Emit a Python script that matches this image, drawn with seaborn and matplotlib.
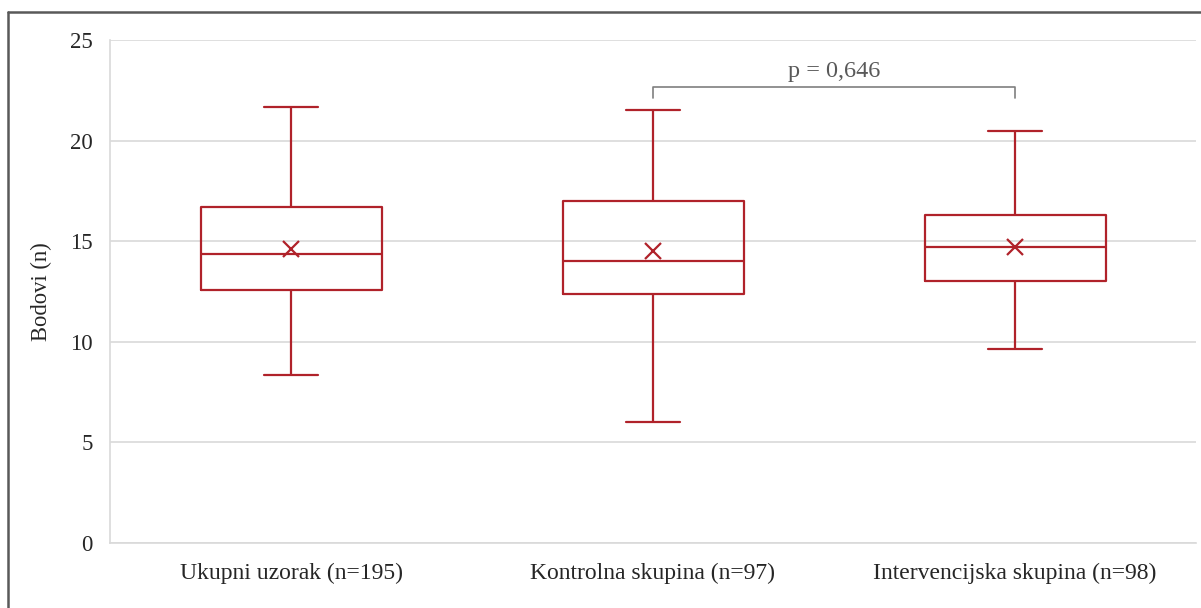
import matplotlib
matplotlib.use('Agg')
import matplotlib.pyplot as plt
import pandas as pd
import seaborn as sns
from matplotlib.lines import Line2D

# Values (min, Q1, median, Q3, max) per group
groups = ['Ukupni uzorak (n=195)', 'Kontrolna skupina (n=97)', 'Intervencijska skupina (n=98)']
w_low = [8.33, 6.03, 9.64]
q1 = [12.59, 12.36, 13.02]
median = [14.36, 14.03, 14.69]
q3 = [16.69, 16.98, 16.32]
w_high = [21.65, 21.5, 20.5]
means = [14.63, 14.5, 14.72]
p_text = 'p = 0,646'

red = '#B0222A'
grid_col = '#D9D9D9'

# Five-number points per group; whiskers drawn at min/max
rows = []
for i, g in enumerate(groups):
    for v in [w_low[i], q1[i], median[i], q3[i], w_high[i]]:
        rows.append({'group': g, 'score': v})
df = pd.DataFrame(rows)
df_mean = pd.DataFrame({'group': groups, 'mean': means})

sns.set_style('white')
plt.rcParams['font.family'] = ['Liberation Serif', 'DejaVu Serif']

fig = plt.figure(figsize=(12.01, 6.08), dpi=100)
ax = fig.add_axes([110 / 1201, 65 / 608, 1086 / 1201, 503 / 608])

sns.boxplot(data=df, x='group', y='score', order=groups, whis=(0, 100), width=0.5,
            fill=False, color=red, linewidth=1.6, capwidths=0.15, ax=ax)
sns.pointplot(data=df_mean, x='group', y='mean', order=groups, linestyle='none',
              marker='x', markersize=11, markeredgewidth=1.6, color=red,
              errorbar=None, ax=ax)

ax.set_ylim(0, 25)
ax.set_xlim(-0.5, 2.5)
ax.set_yticks([0, 5, 10, 15, 20, 25])
ax.yaxis.grid(True, color=grid_col, linewidth=1.2)
ax.set_axisbelow(True)
ax.tick_params(axis='y', length=0, pad=12.5, labelsize=16.5)
ax.tick_params(axis='x', which='major', length=0, pad=14, labelsize=17)
ax.set_xticks([-0.5, 0.5, 1.5, 2.5], minor=True)
ax.tick_params(axis='x', which='minor', length=6, color=grid_col, width=1.2)
for s in ['top', 'right']:
    ax.spines[s].set_visible(False)
for s in ['left', 'bottom']:
    ax.spines[s].set_color(grid_col)
    ax.spines[s].set_linewidth(1.2)
ax.set_xlabel('')
ax.set_ylabel('Bodovi (n)', fontsize=16.3, labelpad=13)

# significance bracket between control and intervention groups
bx = [1, 1, 2, 2]
by = [22.1, 22.68, 22.68, 22.1]
ax.plot(bx, by, color='#7F7F7F', linewidth=1.2, clip_on=False)
ax.text(1.5, 22.9, p_text, ha='center', va='bottom', fontsize=17.5, color='#595959')

# outer frame (left and top edges visible)
fig.add_artist(Line2D([8 / 1201, 8 / 1201], [0, 1 - 12 / 608], color='#595959', linewidth=1.8))
fig.add_artist(Line2D([8 / 1201, 1], [1 - 12 / 608, 1 - 12 / 608], color='#595959', linewidth=1.8))

fig.savefig('out.png', dpi=100, facecolor='white')
